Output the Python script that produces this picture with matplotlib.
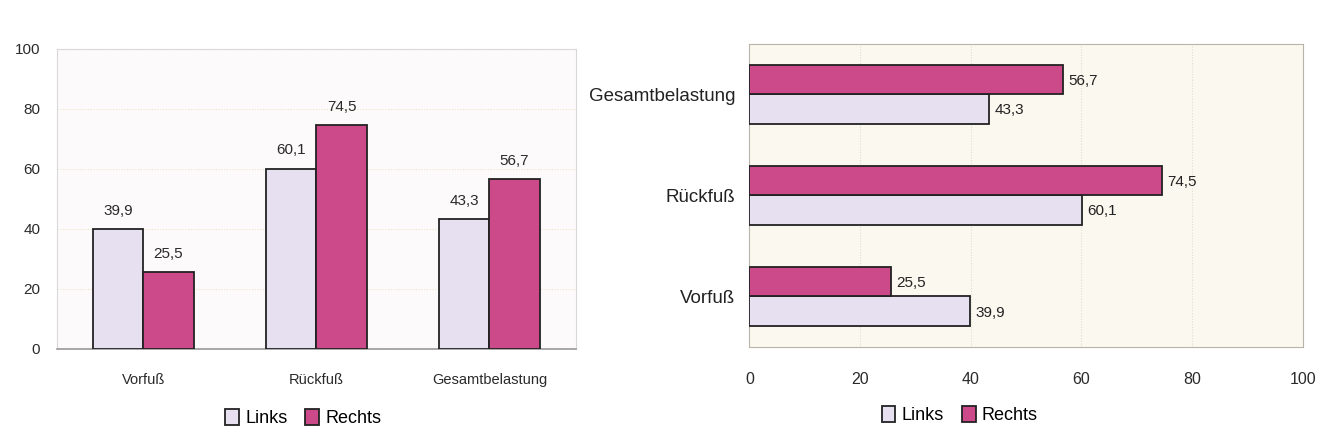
import numpy as np
import matplotlib.pyplot as plt
from matplotlib.patches import Patch

categories = ['Vorfuß', 'Rückfuß', 'Gesamtbelastung']
links = [39.9, 60.1, 43.3]
rechts = [25.5, 74.5, 56.7]
ticks = [0, 20, 40, 60, 80, 100]

col_links = '#e7e0f0'
col_rechts = '#cc4a8a'
font = ['Liberation Sans', 'DejaVu Sans']


def fmt(v):
    return f'{v:.1f}'.replace('.', ',')


fig = plt.figure(figsize=(13.24, 4.48), dpi=100)
x = np.arange(len(categories))
w = 0.29

# Säulendiagramm links
ax1 = fig.add_axes([0.043, 0.221, 0.392, 0.670])
ax1.set_facecolor('#fdfafb')
b1 = ax1.bar(x - w / 2, links, w, color=col_links, edgecolor='#222222', linewidth=1.3, zorder=3)
b2 = ax1.bar(x + w / 2, rechts, w, color=col_rechts, edgecolor='#222222', linewidth=1.3, zorder=3)
for bars, vals in ((b1, links), (b2, rechts)):
    for b, v in zip(bars, vals):
        ax1.annotate(fmt(v), (b.get_x() + b.get_width() / 2, v), xytext=(0, 8),
                     textcoords='offset points', ha='center', va='bottom',
                     fontsize=11, family=font, color='#2a2a2a')
ax1.set_xlim(-0.5, 2.5)
ax1.set_ylim(0, 100)
ax1.set_yticks(ticks)
ax1.set_xticks(x)
ax1.set_xticklabels(categories, family=font, fontsize=10.5, color='#2a2a2a')
ax1.set_yticklabels([str(t) for t in ticks], family=font, fontsize=11, color='#2a2a2a')
ax1.tick_params(length=0)
ax1.tick_params(axis='x', pad=17)
ax1.tick_params(axis='y', pad=12)
ax1.grid(axis='y', color='#ebe6c8', linestyle=(0, (1, 1.5)), linewidth=0.8, zorder=0)
for s in ('top', 'right', 'left'):
    ax1.spines[s].set_color('#d8d8d8')
    ax1.spines[s].set_linewidth(0.8)
ax1.spines['bottom'].set_color('#999999')
ax1.spines['bottom'].set_linewidth(1.2)

handles = [Patch(facecolor=col_links, edgecolor='#222222', linewidth=1.3, label='Links'),
           Patch(facecolor=col_rechts, edgecolor='#222222', linewidth=1.3, label='Rechts')]
fig.legend(handles=handles, loc='center', bbox_to_anchor=(0.229, 0.067), ncol=2,
           frameon=False, prop={'family': font, 'size': 13},
           handlelength=0.75, handleheight=1.0, handletextpad=0.35, columnspacing=1.0)

# Balkendiagramm rechts
ax2 = fig.add_axes([0.566, 0.2254, 0.418, 0.677])
ax2.set_facecolor('#fbf8ef')
h1 = ax2.barh(x - w / 2, links, w, color=col_links, edgecolor='#222222', linewidth=1.3, zorder=3)
h2 = ax2.barh(x + w / 2, rechts, w, color=col_rechts, edgecolor='#222222', linewidth=1.3, zorder=3)
for bars, vals in ((h1, links), (h2, rechts)):
    for b, v in zip(bars, vals):
        ax2.annotate(fmt(v), (v, b.get_y() + b.get_height() / 2), xytext=(4, -1),
                     textcoords='offset points', ha='left', va='center',
                     fontsize=11, family=font, color='#222222')
ax2.set_xlim(0, 100)
ax2.set_ylim(-0.5, 2.5)
ax2.set_xticks(ticks)
ax2.set_xticklabels([str(t) for t in ticks], family=font, fontsize=11.5, color='#2a2a2a')
ax2.set_yticks(x)
ax2.set_yticklabels(categories, family=font, fontsize=13.5, color='#222222')
ax2.tick_params(length=0)
ax2.tick_params(axis='x', pad=18)
ax2.tick_params(axis='y', pad=10)
ax2.grid(axis='x', color='#e2ddd0', linestyle=(0, (1, 1.5)), linewidth=0.8, zorder=0)
for s in ax2.spines.values():
    s.set_color('#b8b4a8')
    s.set_linewidth(0.8)
    s.set_linestyle((0, (1, 1)))

fig.legend(handles=handles, loc='center', bbox_to_anchor=(0.725, 0.074), ncol=2,
           frameon=False, prop={'family': font, 'size': 13},
           handlelength=0.75, handleheight=1.0, handletextpad=0.35, columnspacing=1.0)

fig.savefig('out.png', dpi=100, facecolor='white')
